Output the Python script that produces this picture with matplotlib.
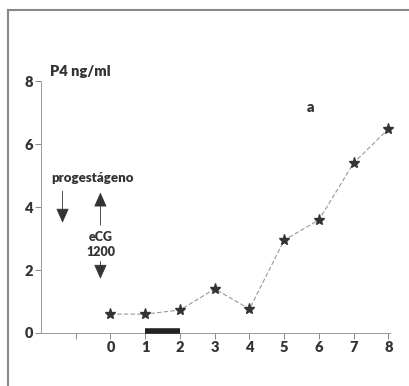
import matplotlib
matplotlib.use("Agg")
import matplotlib.pyplot as plt
from matplotlib.lines import Line2D

days = [0, 1, 2, 3, 4, 5, 6, 7, 8]
p4 = [0.6, 0.6, 0.73, 1.4, 0.76, 2.95, 3.59, 5.4, 6.48]
xticks = [-1, 0, 1, 2, 3, 4, 5, 6, 7, 8]
xticklabels = ["", "0", "1", "2", "3", "4", "5", "6", "7", "8"]
yticks = [0, 2, 4, 6, 8]
bar_span = [1, 2]

plt.rcParams['font.family'] = ['Lato', 'DejaVu Sans']

W, H = 410, 386
fig = plt.figure(figsize=(W / 100, H / 100), dpi=100)
fig.patch.set_facecolor('white')

ax = fig.add_axes([41 / W, (H - 333) / H, 349.2 / W, 252 / H])
ax.set_xlim(-2, 8.05)
ax.set_ylim(0, 8)
ax.patch.set_alpha(0)

for s in ['top', 'right']:
    ax.spines[s].set_visible(False)
for s in ['left', 'bottom']:
    ax.spines[s].set_linestyle((0, (1, 1)))
    ax.spines[s].set_color('#999999')
    ax.spines[s].set_linewidth(0.7)

ax.set_xticks(xticks)
ax.set_xticklabels(xticklabels, fontweight='heavy', fontsize=10.5, color='#333333')
ax.set_yticks(yticks)
ax.set_yticklabels([str(v) for v in yticks], fontweight='heavy', fontsize=10.5, color='#333333')
ax.tick_params(axis='both', length=4, width=0.7, color='#888888', pad=2)

ax.plot(days, p4, linestyle=(0, (4, 2)), color='#999999', linewidth=0.8,
        marker='*', markersize=8, markerfacecolor='#333333', markeredgecolor='#333333',
        clip_on=False, zorder=3)

ax.plot(bar_span, [0.06, 0.06], color='#222222', linewidth=4, solid_capstyle='butt',
        clip_on=False, zorder=4)

tk = dict(fontweight='heavy', color='#333333')
ax.text(-1.73, 8.3, "P4 ng/ml", fontsize=10.5, ha='left', va='center', **tk)
ax.text(5.76, 7.17, "a", fontsize=10.5, ha='center', va='center', **tk)
ax.text(-0.52, 4.92, "progestágeno", fontsize=9.5, ha='center', va='center', **tk)
ax.text(-0.29, 3.05, "eCG", fontsize=9, ha='center', va='center', **tk)
ax.text(-0.29, 2.57, "1200", fontsize=9, ha='center', va='center', **tk)

ap = dict(arrowstyle='-|>,head_length=0.9,head_width=0.4', color='#333333', lw=0.6,
          shrinkA=0, shrinkB=0)
ax.annotate("", xy=(-1.38, 3.5), xytext=(-1.38, 4.5), arrowprops=ap)
ax.annotate("", xy=(-0.29, 4.46), xytext=(-0.29, 3.42), arrowprops=ap)
ax.annotate("", xy=(-0.29, 1.72), xytext=(-0.29, 2.27), arrowprops=ap)

fig.add_artist(Line2D([8 / W, 8 / W], [0, (H - 10) / H], color='#888888', lw=1.5,
                      transform=fig.transFigure))
fig.add_artist(Line2D([8 / W, 1], [(H - 10) / H, (H - 10) / H], color='#888888', lw=1.5,
                      transform=fig.transFigure))

fig.savefig("out.png", dpi=100)
